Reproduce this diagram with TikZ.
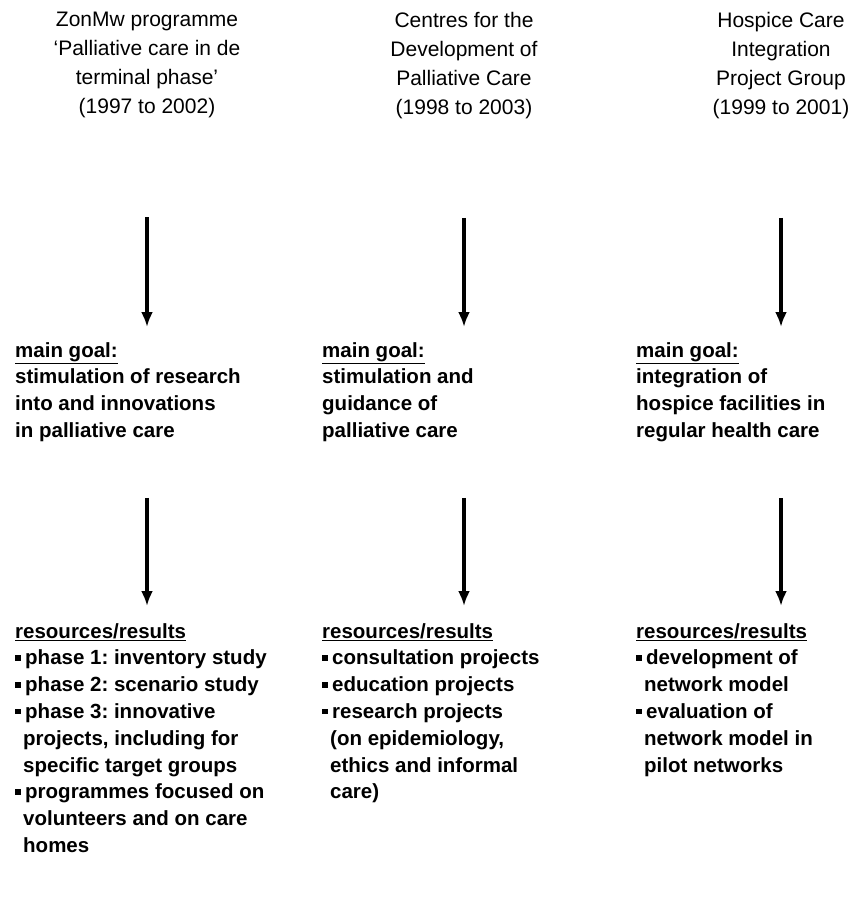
\documentclass[tikz,border=0pt]{standalone}
\usepackage{fontspec}
\setmainfont{Liberation Sans}
\usetikzlibrary{arrows.meta}
\tikzset{head/.style={align=center,inner sep=0pt,anchor=north,font=\fontsize{21}{29}\selectfont},
         body/.style={align=left,inner sep=0pt,anchor=north west,font=\bfseries\fontsize{20.5}{26.8}\selectfont},
         arr/.style={line width=3.5pt,-{Latex[length=15pt,width=12pt]}}}
\newcommand{\blt}{\makebox[10pt][l]{\rule[4pt]{5.5pt}{5.5pt}}}
\newcommand{\ind}{\hspace*{8pt}}
\frenchspacing

\begin{document}
\begin{tikzpicture}[x=1pt,y=-1pt]
    \useasboundingbox (0,0) rectangle (855,924);

    \node[head] (zon) at (147,12) {ZonMw programme\\`Palliative care in de\\terminal phase'\\(1997 to 2002)};
    \node[head] (cdp) at (464,12) {Centres for the\\Development of\\Palliative Care\\(1998 to 2003)};
    \node[head] (hci) at (781,12) {Hospice Care\\Integration\\Project Group\\(1999 to 2001)};

    \node[body] (goalzon) at (15,342) {\underline{main goal:}\\stimulation of research\\into and innovations\\in palliative care};
    \node[body] (goalcdp) at (322,342) {\underline{main goal:}\\stimulation and\\guidance of\\palliative care};
    \node[body] (goalhci) at (636,342) {\underline{main goal:}\\integration of\\hospice facilities in\\regular health care};

    \node[body] (reszon) at (15,623) {\underline{resources/results}\\
        \blt phase 1: inventory study\\
        \blt phase 2: scenario study\\
        \blt phase 3: innovative\\
        \ind projects, including for\\
        \ind specific target groups\\
        \blt programmes focused on\\
        \ind volunteers and on care\\
        \ind homes};
    \node[body] (rescdp) at (322,623) {\underline{resources/results}\\
        \blt consultation projects\\
        \blt education projects\\
        \blt research projects\\
        \ind (on epidemiology,\\
        \ind ethics and informal\\
        \ind care)};
    \node[body] (reshci) at (636,623) {\underline{resources/results}\\
        \blt development of\\
        \ind network model\\
        \blt evaluation of\\
        \ind network model in\\
        \ind pilot networks};

    \draw [arr,shorten <=99pt,shorten >=15pt] (zon.south) to [] (zon.south |- goalzon.north);
    \draw [arr,shorten <=99pt,shorten >=15pt] (cdp.south) to [] (cdp.south |- goalcdp.north);
    \draw [arr,shorten <=99pt,shorten >=15pt] (hci.south) to [] (hci.south |- goalhci.north);
    \draw [arr,shorten <=56pt,shorten >=17pt] (zon.south |- goalzon.south) to [] (zon.south |- reszon.north);
    \draw [arr,shorten <=56pt,shorten >=17pt] (cdp.south |- goalcdp.south) to [] (cdp.south |- rescdp.north);
    \draw [arr,shorten <=56pt,shorten >=17pt] (hci.south |- goalhci.south) to [] (hci.south |- reshci.north);
\end{tikzpicture}
\end{document}
